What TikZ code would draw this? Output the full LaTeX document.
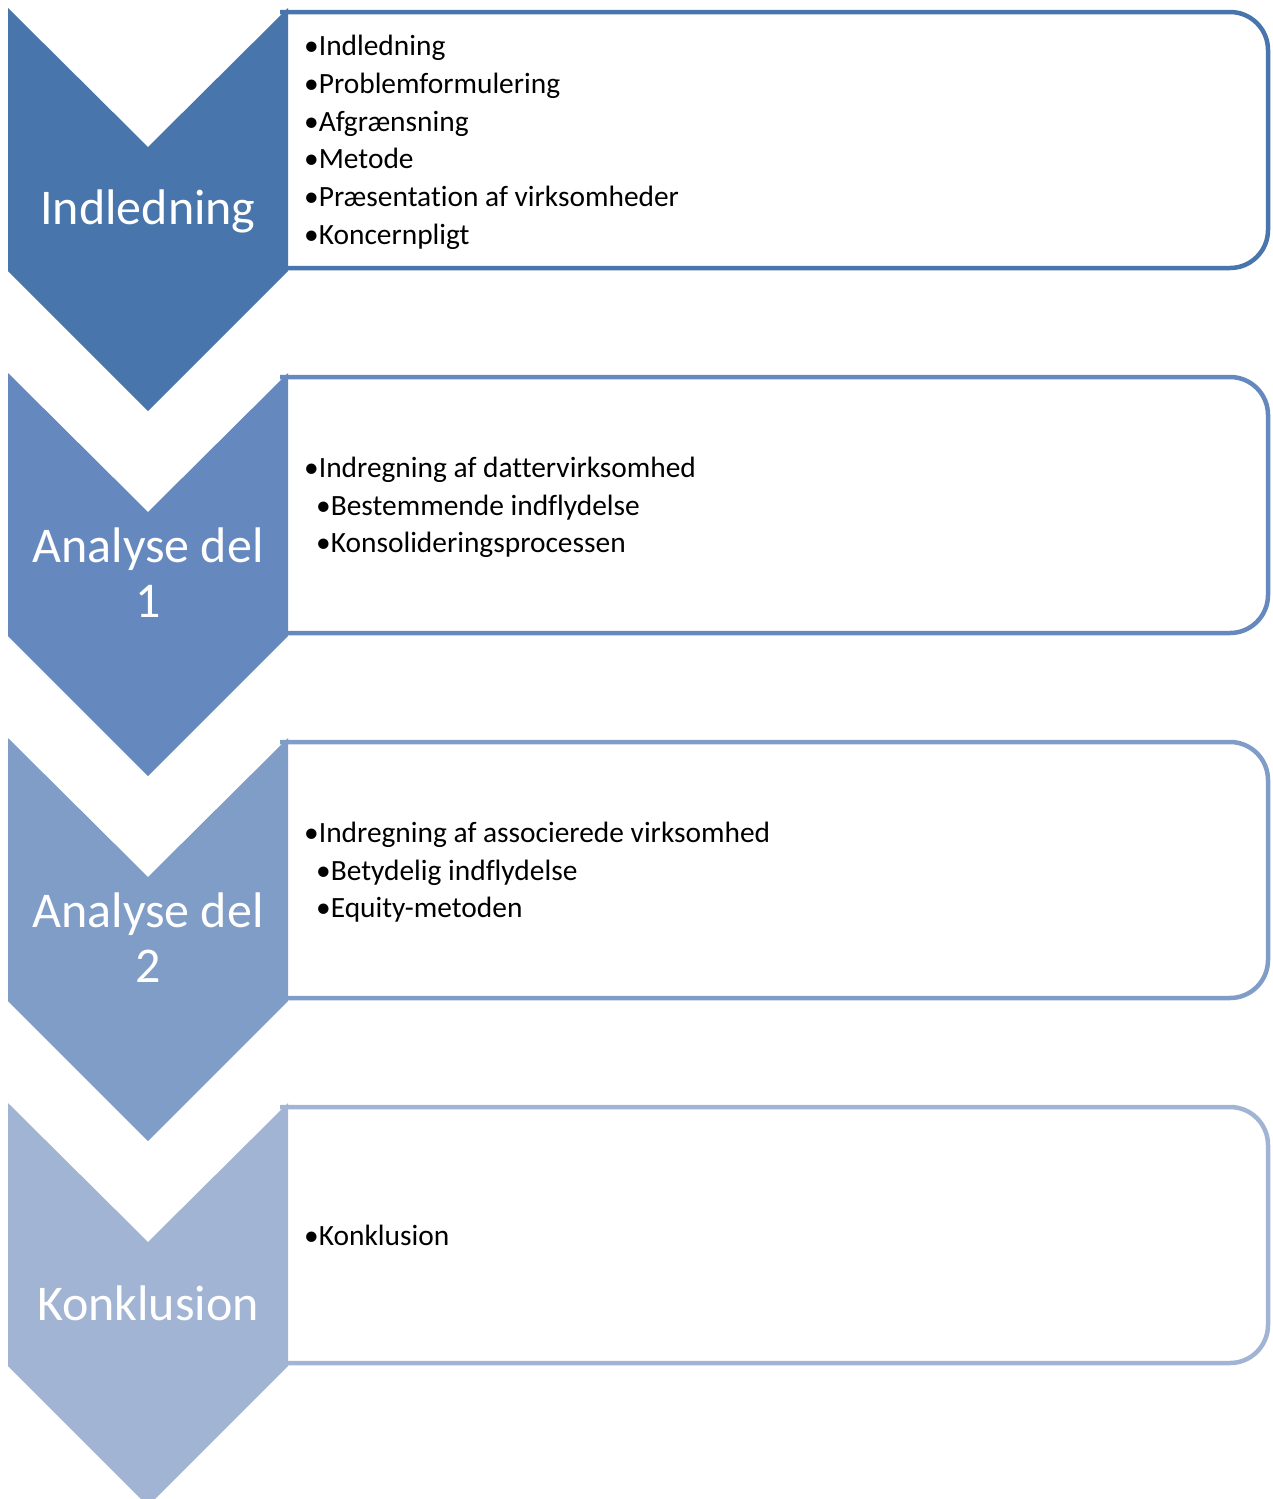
\documentclass[tikz,border=0pt]{standalone}
\usepackage{fontspec}
\setmainfont{Carlito}[Ligatures={NoCommon,NoRequired},RawFeature={-liga;-clig;-dlig}]
\definecolor{cA}{RGB}{72,117,171}
\definecolor{cB}{RGB}{101,137,190}
\definecolor{cC}{RGB}{128,157,200}
\definecolor{cD}{RGB}{162,180,212}
\tikzset{
  boxline/.style={line width=4.5pt, fill=white, rounded corners=38pt},
  stagelabel/.style={text=white, anchor=base, inner sep=0pt, font=\fontsize{50}{55}\selectfont},
  item/.style={text=black, anchor=base west, inner sep=0pt, font=\fontsize{29.4}{37.8}\selectfont},
}
\begin{document}
\begin{tikzpicture}[x=1pt,y=-1pt]
\useasboundingbox (0,0) rectangle (1272,1499);
\clip (0,0) rectangle (1272,1499);
\foreach \i/\col in {0/cA,1/cB,2/cC,3/cD}{
  \pgfmathsetmacro{\o}{365*\i}
  \draw[boxline, draw=\col] (280,12+\o) -- (1268,12+\o) -- (1268,268+\o) -- (280,268+\o);
  \fill[\col] (8,8+\o) -- (148,147+\o) -- (288,8+\o) -- (288,271+\o) -- (148,411+\o) -- (8,271+\o) -- cycle;
  \coordinate (stage\i) at (148,210+\o);
}
% stage labels
\node[stagelabel] (l1) at (148,224) {Indledning};
\node[stagelabel] (l2a) at (148,562) {Analyse del};
\node[stagelabel] (l2b) at (148,617) {1};
\node[stagelabel] (l3a) at (148,927) {Analyse del};
\node[stagelabel] (l3b) at (148,982) {2};
\node[stagelabel] (l4) at (148,1320) {Konklusion};
% box 1
\node[item] (a1) at (304,55) {•Indledning};
\node[item] (a2) at (304,93) {•Problemformulering};
\node[item] (a3) at (304,131) {•Afgrænsning};
\node[item] (a4) at (304,168) {•Metode};
\node[item] (a5) at (304,206) {•Præsentation af virksomheder};
\node[item] (a6) at (304,244) {•Koncernpligt};
% box 2
\node[item] (b1) at (304,477) {•Indregning af dattervirksomhed};
\node[item] (b2) at (316,515) {•Bestemmende indflydelse};
\node[item] (b3) at (316,552) {•Konsolideringsprocessen};
% box 3
\node[item] (c1) at (304,842) {•Indregning af associerede virksomhed};
\node[item] (c2) at (316,880) {•Betydelig indflydelse};
\node[item] (c3) at (316,917) {•Equity-metoden};
% box 4
\node[item] (d1) at (304,1245) {•Konklusion};
\end{tikzpicture}
\end{document}
